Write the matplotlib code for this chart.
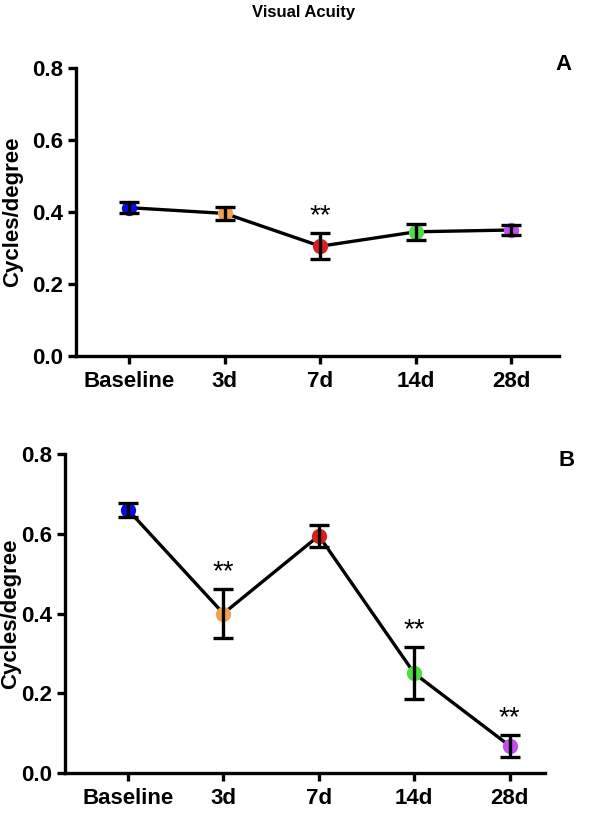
import matplotlib
matplotlib.use("Agg")
import matplotlib.pyplot as plt

plt.rcParams['font.family'] = ['Liberation Sans', 'DejaVu Sans']

categories = ["Baseline", "3d", "7d", "14d", "28d"]
colors = ["#0a0ae6", "#f0a050", "#dc1e1e", "#50dc46", "#c04ef0"]

a_mean = [0.412, 0.396, 0.305, 0.345, 0.350]
a_err = [0.015, 0.018, 0.036, 0.022, 0.015]
a_sig = ["", "", "**", "", ""]

b_mean = [0.660, 0.400, 0.595, 0.250, 0.068]
b_err = [0.018, 0.062, 0.027, 0.065, 0.027]
b_sig = ["", "**", "", "**", "**"]

yticks = [0.0, 0.2, 0.4, 0.6, 0.8]

W, H = 608, 835
fig = plt.figure(figsize=(W / 100, H / 100), dpi=100)
# axes in pixel units: left, top, right, bottom
def px_axes(l, t, r, b):
    return fig.add_axes([l / W, 1 - b / H, (r - l) / W, (b - t) / H])

axA = px_axes(76, 68, 559, 356)
axB = px_axes(65, 454, 545, 773)

def draw(ax, mean, err, sig, letter, lx, ly, xlim, ylab_x, ylab_y):
    x = list(range(len(categories)))
    ax.plot(x, mean, color="black", lw=2.4, zorder=2)
    for i in x:
        ax.plot(i, mean[i], 'o', color=colors[i], markersize=11, zorder=3, markeredgewidth=0)
        ax.errorbar(i, mean[i], yerr=err[i], color="black", capsize=7, capthick=2.4,
                    elinewidth=2.4, zorder=4, fmt='none')
        if sig[i]:
            ax.text(i, mean[i] + err[i] + 0.01, sig[i], ha='center', va='bottom',
                    fontsize=20, zorder=5)
    ax.set_xlim(*xlim)
    ax.set_ylim(0, 0.8)
    ax.set_xticks(x)
    ax.set_xticklabels(categories, fontsize=16, fontweight='bold')
    ax.set_yticks(yticks)
    ax.set_yticklabels([f"{v:.1f}" for v in yticks], fontsize=16, fontweight='bold')
    for s in ['top', 'right']:
        ax.spines[s].set_visible(False)
    for s in ['left', 'bottom']:
        ax.spines[s].set_linewidth(2.4)
    ax.tick_params(axis='both', width=2.4, length=6, direction='out', pad=3)
    ax.tick_params(axis='x', pad=5)
    fig.text(lx / W, 1 - ly / H, letter, fontsize=16, fontweight='bold', ha='center', va='center')
    fig.text(ylab_x / W, 1 - ylab_y / H, "Cycles/degree", fontsize=16, fontweight='bold',
             rotation=90, ha='center', va='center')

draw(axA, a_mean, a_err, a_sig, "A", 563, 64, (-0.56, 4.5), 13, 212)
draw(axB, b_mean, b_err, b_sig, "B", 567, 460, (-0.66, 4.37), 11, 614)

fig.text(0.5, 1 - 12 / H, "Visual Acuity", fontsize=12, fontweight='bold', ha='center', va='center')

fig.savefig("out.png", dpi=100)
